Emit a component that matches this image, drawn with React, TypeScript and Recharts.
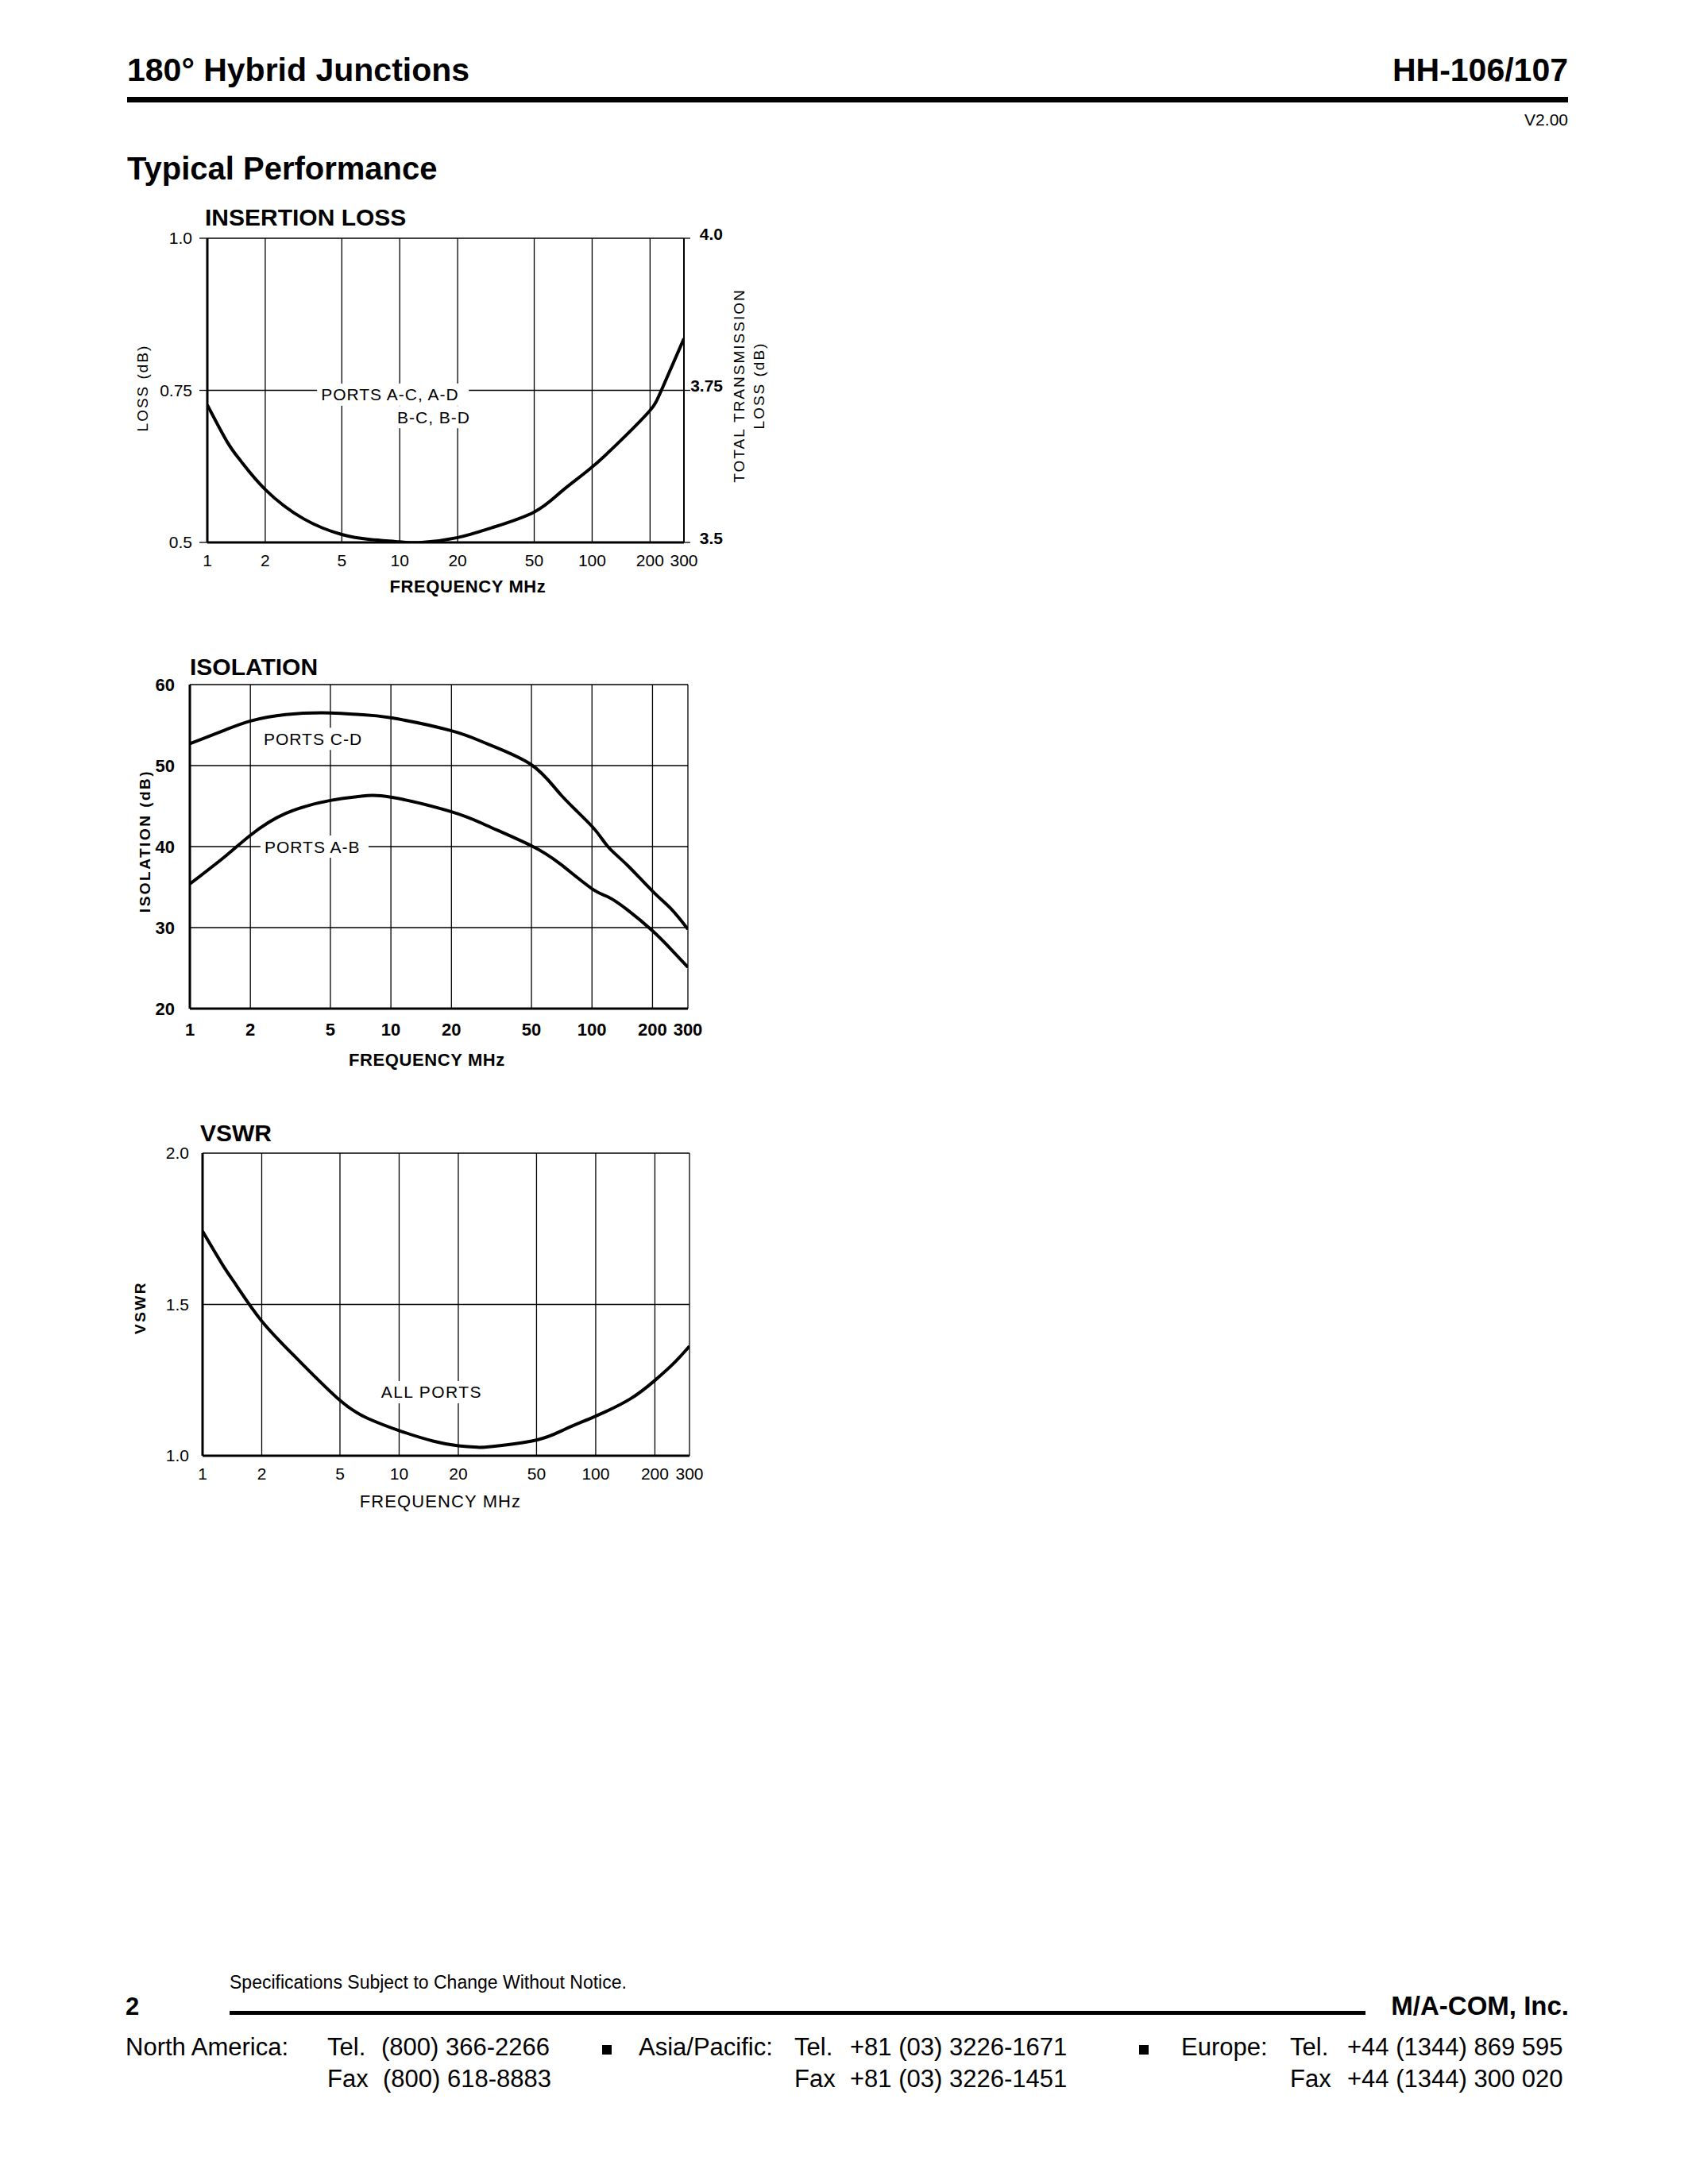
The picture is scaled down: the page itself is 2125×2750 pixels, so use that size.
import React from 'react';
import { LineChart, Line, XAxis, YAxis, CartesianGrid, ReferenceDot } from 'recharts';

const FONT = '"Liberation Sans", Arial, Helvetica, sans-serif';

// ---- frequency axis (MHz) ----
const FREQ_TICKS = [1, 2, 5, 10, 20, 50, 100, 200, 300];

// ---- insertion loss ----
const IL_FREQ = [1, 1.27, 1.5, 2, 3.16, 5, 7, 10, 13, 20, 30, 50, 70, 100, 150, 200, 229, 300];
const IL_LOSS = [0.726, 0.665, 0.633, 0.587, 0.539, 0.513, 0.505, 0.501, 0.5, 0.508, 0.524, 0.55, 0.585, 0.624, 0.676, 0.717, 0.75, 0.835];
const IL_LEFT_TICKS = [0.5, 0.75, 1.0];
const IL_RIGHT_TICKS = [3.5, 3.75, 4.0];

// ---- isolation ----
const ISO_FREQ = [1, 1.5, 2, 3, 5, 7, 10, 20, 30, 50, 70, 100, 120, 150, 200, 250, 300];
const ISO_CD = [52.7, 54.4, 55.5, 56.3, 56.5, 56.3, 55.9, 54.3, 52.7, 50.1, 46.4, 42.5, 40.0, 37.7, 34.5, 32.2, 29.8];
const ISO_AB = [35.4, 38.8, 41.4, 44.1, 45.7, 46.2, 46.1, 44.3, 42.6, 40.1, 37.8, 34.8, 33.8, 32.2, 29.6, 27.2, 25.1];
const ISO_TICKS = [20, 30, 40, 50, 60];

// ---- VSWR ----
const VSWR_FREQ = [1, 1.27, 1.5, 2, 3, 5, 7, 10, 15, 20, 25, 30, 50, 70, 100, 150, 200, 250, 300];
const VSWR_ALL = [1.742, 1.629, 1.559, 1.445, 1.323, 1.183, 1.122, 1.083, 1.048, 1.033, 1.028, 1.031, 1.052, 1.088, 1.131, 1.188, 1.249, 1.306, 1.362];
const VSWR_TICKS = [1.0, 1.5, 2.0];

const ilData = IL_FREQ.map((f, i) => ({ f, loss: IL_LOSS[i] }));
const isoData = ISO_FREQ.map((f, i) => ({ f, cd: ISO_CD[i], ab: ISO_AB[i] }));
const vswrData = VSWR_FREQ.map((f, i) => ({ f, vswr: VSWR_ALL[i] }));

const fmt1 = (v: number) => (Number.isInteger(Math.round(v * 1000) / 100) ? v.toFixed(1) : String(v));

const XTitle = (props: any) => {
  const { viewBox, text, dx = 0, dy = 0, size = 22, weight = 'bold', spacing = 0 } = props;
  if (!viewBox) return null;
  const x = viewBox.x + viewBox.width / 2 + dx;
  const y = viewBox.y + dy;
  return (
    <text x={x} y={y} textAnchor="middle" fontSize={size} fontWeight={weight} letterSpacing={spacing} fill="#000" fontFamily={FONT}>
      {text}
    </text>
  );
};

const YTitle = (props: any) => {
  const { viewBox, lines, side = 'left', dx = 0, dy = 0, gap = 25, size = 19, weight = 'normal', spacing = 2 } = props;
  if (!viewBox) return null;
  const axisX = side === 'left' ? viewBox.x + viewBox.width : viewBox.x;
  const cx = axisX + dx;
  const cy = viewBox.y + viewBox.height / 2 + dy;
  return (
    <g>
      {lines.map((t: string, i: number) => (
        <text
          key={i}
          x={0}
          y={0}
          transform={`translate(${cx + i * gap},${cy}) rotate(-90)`}
          textAnchor="middle"
          dominantBaseline="central"
          fontSize={size}
          fontWeight={weight}
          letterSpacing={spacing}
          fill="#000"
          fontFamily={FONT}
        >
          {t}
        </text>
      ))}
    </g>
  );
};

const BoxedText = (props: any) => {
  const { viewBox, text, w, size = 21, spacing = 1 } = props;
  if (!viewBox) return null;
  const x = viewBox.x + (viewBox.width || 0) / 2;
  const y = viewBox.y + (viewBox.height || 0) / 2;
  return (
    <g>
      <rect x={x - 5} y={y - 14} width={w + 10} height={28} fill="#fff" />
      <text x={x} y={y} dominantBaseline="central" fontSize={size} letterSpacing={spacing} fill="#000" fontFamily={FONT}>
        {text}
      </text>
    </g>
  );
};

const RightTick = (props: any) => {
  const { x, y, payload } = props;
  return (
    <text x={x + 41} y={y - 6} textAnchor="end" dominantBaseline="central" fontSize={21} fontWeight="bold" fill="#000" fontFamily={FONT}>
      {fmt1(payload.value)}
    </text>
  );
};

const GRID = { stroke: '#000', strokeWidth: 1.3 };
const AXIS_THICK = { stroke: '#000', strokeWidth: 3 };
const CURVE = 'natural' as const;

function InsertionLoss() {
  return (
    <div style={{ position: 'absolute', left: 140, top: 240 }}>
      <LineChart width={880} height={540} data={ilData} margin={{ top: 60, right: 39, bottom: 37, left: 0 }}>
        <CartesianGrid yAxisId="left" {...GRID} fill="none" />
        <XAxis
          dataKey="f"
          type="number"
          scale="log"
          domain={[1, 300]}
          ticks={FREQ_TICKS}
          allowDataOverflow
          interval={0}
          height={60}
          tickSize={0}
          tickMargin={15}
          tickLine={false}
          axisLine={AXIS_THICK}
          tick={{ fontSize: 21, fill: '#000', fontFamily: FONT }}
          label={<XTitle text="FREQUENCY MHz" dx={28} dy={63} size={22} spacing={0.6} />}
        />
        <YAxis
          yAxisId="left"
          type="number"
          domain={[0.5, 1]}
          allowDataOverflow
          ticks={IL_LEFT_TICKS}
          interval={0}
          width={121}
          tickSize={10}
          tickMargin={9}
          tickLine={GRID}
          axisLine={AXIS_THICK}
          tickFormatter={fmt1}
          tick={{ fontSize: 21, fill: '#000', fontFamily: FONT }}
          label={<YTitle lines={['LOSS (dB)']} side="left" dx={-82} dy={-3} size={19} spacing={2} />}
        />
        <YAxis
          yAxisId="right"
          orientation="right"
          type="number"
          domain={[3.5, 4]}
          allowDataOverflow
          ticks={IL_RIGHT_TICKS}
          interval={0}
          width={120}
          tickSize={8}
          tickMargin={0}
          tickLine={GRID}
          axisLine={{ stroke: '#000', strokeWidth: 2 }}
          tick={(p: any) => <RightTick {...p} />}
          label={<YTitle lines={['TOTAL TRANSMISSION', 'LOSS (dB)']} side="right" dx={69} dy={-6} gap={25} size={19} spacing={2} />}
        />
        <ReferenceDot yAxisId="left" x={3.9} y={0.743} r={0} fill="none" stroke="none" label={<BoxedText text="PORTS A-C, A-D" w={181} />} />
        <ReferenceDot yAxisId="left" x={9.7} y={0.706} r={0} fill="none" stroke="none" label={<BoxedText text="B-C, B-D" w={92} />} />
        <Line yAxisId="left" dataKey="loss" type={CURVE} stroke="#000" strokeWidth={4} dot={false} isAnimationActive={false} />
      </LineChart>
    </div>
  );
}

function Isolation() {
  return (
    <div style={{ position: 'absolute', left: 140, top: 800 }}>
      <LineChart width={800} height={560} data={isoData} margin={{ top: 62, right: 74, bottom: 30, left: 0 }}>
        <CartesianGrid {...GRID} fill="none" />
        <XAxis
          dataKey="f"
          type="number"
          scale="log"
          domain={[1, 300]}
          ticks={FREQ_TICKS}
          allowDataOverflow
          interval={0}
          height={60}
          tickSize={0}
          tickMargin={18}
          tickLine={false}
          axisLine={AXIS_THICK}
          tick={{ fontSize: 22, fill: '#000', fontWeight: 'bold', fontFamily: FONT }}
          label={<XTitle text="FREQUENCY MHz" dx={-15} dy={72} size={22} spacing={0.6} />}
        />
        <YAxis
          type="number"
          domain={[20, 60]}
          allowDataOverflow
          ticks={ISO_TICKS}
          interval={0}
          width={99}
          tickSize={0}
          tickMargin={19}
          tickLine={false}
          axisLine={AXIS_THICK}
          tick={{ fontSize: 22, fill: '#000', fontWeight: 'bold', fontFamily: FONT }}
          label={<YTitle lines={['ISOLATION (dB)']} side="left" dx={-57} dy={-7} size={19} weight="bold" spacing={2.5} />}
        />
        <ReferenceDot x={2.33} y={53.3} r={0} fill="none" stroke="none" label={<BoxedText text="PORTS C-D" w={126} />} />
        <ReferenceDot x={2.35} y={40} r={0} fill="none" stroke="none" label={<BoxedText text="PORTS A-B" w={126} />} />
        <Line dataKey="cd" type={CURVE} stroke="#000" strokeWidth={4} dot={false} isAnimationActive={false} />
        <Line dataKey="ab" type={CURVE} stroke="#000" strokeWidth={4} dot={false} isAnimationActive={false} />
      </LineChart>
    </div>
  );
}

function Vswr() {
  return (
    <div style={{ position: 'absolute', left: 140, top: 1390 }}>
      <LineChart width={800} height={540} data={vswrData} margin={{ top: 62, right: 72, bottom: 37, left: 0 }}>
        <CartesianGrid {...GRID} fill="none" />
        <XAxis
          dataKey="f"
          type="number"
          scale="log"
          domain={[1, 300]}
          ticks={FREQ_TICKS}
          allowDataOverflow
          interval={0}
          height={60}
          tickSize={0}
          tickMargin={15}
          tickLine={false}
          axisLine={AXIS_THICK}
          tick={{ fontSize: 21, fill: '#000', fontFamily: FONT }}
          label={<XTitle text="FREQUENCY MHz" dx={-7} dy={65} size={22} weight="normal" spacing={1.1} />}
        />
        <YAxis
          type="number"
          domain={[1, 2]}
          allowDataOverflow
          ticks={VSWR_TICKS}
          interval={0}
          width={115}
          tickSize={0}
          tickMargin={17}
          tickLine={false}
          axisLine={AXIS_THICK}
          tickFormatter={fmt1}
          tick={{ fontSize: 21, fill: '#000', fontFamily: FONT }}
          label={<YTitle lines={['VSWR']} side="left" dx={-79} dy={4} size={19} weight="bold" spacing={2.5} />}
        />
        <ReferenceDot x={8.1} y={1.21} r={0} fill="none" stroke="none" label={<BoxedText text="ALL PORTS" w={134} spacing={1.4} />} />
        <Line dataKey="vswr" type={CURVE} stroke="#000" strokeWidth={4} dot={false} isAnimationActive={false} />
      </LineChart>
    </div>
  );
}

function PageText() {
  const T = (p: any) => <text fill="#000" fontFamily={FONT} {...p} />;
  return (
    <svg width={2125} height={2750} style={{ position: 'absolute', left: 0, top: 0 }}>
      <T x={160} y={102} fontSize={41} fontWeight="bold">180° Hybrid Junctions</T>
      <T x={1974} y={102} fontSize={41} fontWeight="bold" textAnchor="end">HH-106/107</T>
      <rect x={160} y={122} width={1814} height={7} fill="#000" />
      <T x={1974} y={158} fontSize={21} textAnchor="end">V2.00</T>
      <T x={160} y={226} fontSize={40} fontWeight="bold">Typical Performance</T>

      <T x={258} y={284} fontSize={30} fontWeight="bold">INSERTION LOSS</T>
      <T x={239} y={850} fontSize={30} fontWeight="bold">ISOLATION</T>
      <T x={252} y={1437} fontSize={30} fontWeight="bold">VSWR</T>

      <T x={289} y={2504} fontSize={23}>Specifications Subject to Change Without Notice.</T>
      <T x={158} y={2537} fontSize={31} fontWeight="bold">2</T>
      <rect x={289} y={2532} width={1430} height={5} fill="#000" />
      <T x={1975} y={2537} fontSize={33} fontWeight="bold" textAnchor="end">M/A-COM, Inc.</T>

      <T x={158} y={2588} fontSize={31}>North America:</T>
      <T x={412} y={2588} fontSize={31}>Tel.</T>
      <T x={480} y={2588} fontSize={31}>(800) 366-2266</T>
      <rect x={758} y={2575} width={12} height={12} fill="#000" />
      <T x={804} y={2588} fontSize={31}>Asia/Pacific:</T>
      <T x={1000} y={2588} fontSize={31}>Tel.</T>
      <T x={1070} y={2588} fontSize={31}>+81 (03) 3226-1671</T>
      <rect x={1434} y={2575} width={12} height={12} fill="#000" />
      <T x={1487} y={2588} fontSize={31}>Europe:</T>
      <T x={1624} y={2588} fontSize={31}>Tel.</T>
      <T x={1696} y={2588} fontSize={31}>+44 (1344) 869 595</T>

      <T x={412} y={2628} fontSize={31}>Fax</T>
      <T x={482} y={2628} fontSize={31}>(800) 618-8883</T>
      <T x={1000} y={2628} fontSize={31}>Fax</T>
      <T x={1070} y={2628} fontSize={31}>+81 (03) 3226-1451</T>
      <T x={1624} y={2628} fontSize={31}>Fax</T>
      <T x={1696} y={2628} fontSize={31}>+44 (1344) 300 020</T>
    </svg>
  );
}

export default function App() {
  return (
    <div style={{ position: 'absolute', left: 0, top: 0, width: 2125, height: 2750, background: '#fff', fontFamily: FONT }}>
      <PageText />
      <InsertionLoss />
      <Isolation />
      <Vswr />
    </div>
  );
}
